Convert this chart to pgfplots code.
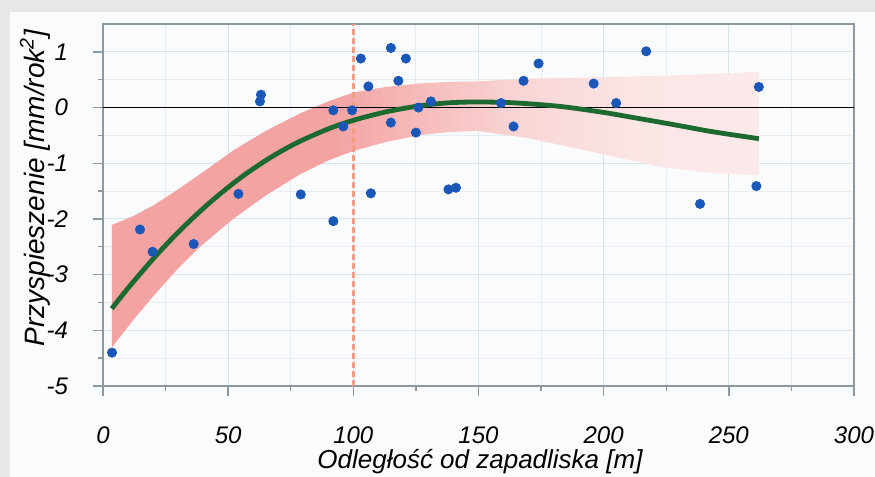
\documentclass[border=0pt]{standalone}
\usepackage{fontspec}
\setmainfont{Liberation Sans}
\usepackage{pgfplots}
\pgfplotsset{compat=1.18}

\definecolor{framegray}{HTML}{E6E7E9}
\definecolor{panel}{HTML}{FAFBFD}
\definecolor{gridmaj}{HTML}{D6E4EE}
\definecolor{gridmin}{HTML}{E4EDF4}
\definecolor{axisgray}{HTML}{8C99A3}
\definecolor{pinkA}{HTML}{F2A3A2}
\definecolor{pinkB}{HTML}{F6BFBE}
\definecolor{pinkC}{HTML}{F9D6D6}
\definecolor{pinkD}{HTML}{FBE6E6}
\definecolor{pinkE}{HTML}{FDF1F1}
\definecolor{fitgreen}{HTML}{1C6A30}
\definecolor{ptblue}{HTML}{1B57B8}
\definecolor{dashred}{HTML}{F39C86}

% band fades towards larger distances
\pgfdeclarehorizontalshading{bandfade}{100bp}{color(0bp)=(pinkA); color(42bp)=(pinkA);
  color(50bp)=(pinkB); color(57bp)=(pinkC); color(66bp)=(pinkD); color(100bp)=(pinkE)}

\begin{document}
\begin{tikzpicture}
\useasboundingbox (-51.5pt,-45.5pt) rectangle (386pt,193pt);
\fill[framegray] (-51.5pt,-45.5pt) rectangle (386pt,193pt);
\fill[panel] (-46.5pt,-45.5pt) rectangle (386pt,187pt);
\begin{axis}[
  at={(0,0)}, anchor=south west,
  scale only axis, width=375.5pt, height=181pt,
  xmin=0, xmax=300, ymin=-5, ymax=1.5,
  xtick={0,50,...,300}, ytick={-5,-4,...,1},
  minor x tick num=1, minor y tick num=1,
  grid=both,
  major grid style={gridmaj, line width=0.5pt},
  minor grid style={gridmin, line width=0.5pt},
  tick pos=left, tick align=outside,
  major tick length=5pt, minor tick length=2.5pt,
  every tick/.style={axisgray, line width=0.7pt},
  axis line style={axisgray, line width=0.8pt},
  /pgf/number format/assume math mode=true,
  ticklabel style={font=\fontsize{12}{14}\selectfont\itshape},
  xticklabel style={yshift=-12pt},
  yticklabel style={xshift=-9pt},
  xlabel={Odległość od zapadliska [m]},
  ylabel={Przyspieszenie [mm/rok\textsuperscript{2}]},
  xlabel style={font=\fontsize{13}{15}\selectfont\itshape, at={(axis description cs:0.502,-0.21)}, anchor=center},
  ylabel style={font=\fontsize{14}{16}\selectfont\itshape, at={(axis description cs:-0.0905,0.547)}, anchor=center, rotate=0},
]
% confidence band
\addplot[draw=none, shading=bandfade, shade] coordinates {
  (3.5,-2.11) (12,-1.95) (20,-1.76) (28,-1.53) (39,-1.19) (52,-0.77) (65,-0.42)
  (79,-0.10) (90,0.11) (100,0.27) (113,0.37) (126,0.43) (138,0.46) (150,0.47)
  (170,0.52) (196,0.54) (222,0.57) (242,0.60) (262,0.64)
  (262,-1.22) (242,-1.17) (222,-1.06) (196,-0.80) (170,-0.55) (150,-0.42) (138,-0.44)
  (126,-0.50) (113,-0.62) (100,-0.78) (90,-0.95) (79,-1.19) (65,-1.58) (52,-2.00)
  (39,-2.49) (30,-2.89) (20,-3.39) (12,-3.82) (3.5,-4.31)
};
% reference lines
\addplot[dashred, line width=1.4pt, dash pattern=on 3pt off 1.5pt] coordinates {(100,-5) (100,1.5)};
\addplot[black, line width=0.9pt] coordinates {(0,0) (300,0)};
% fitted curve
\addplot[fitgreen, line width=2.4pt, smooth, tension=0.5] coordinates {
  (3.5,-3.610) (10,-3.243) (20,-2.718) (28,-2.333) (36,-1.979) (44,-1.655)
  (52,-1.362) (58,-1.162) (65,-0.951) (72,-0.763) (79,-0.599) (90,-0.383)
  (100,-0.229) (113,-0.078) (126,0.028) (138,0.085) (150,0.100) (165,0.083)
  (183,0.018) (200,-0.088) (211,-0.173) (222,-0.259) (232,-0.340) (242,-0.423)
  (252,-0.493) (262,-0.559)
};
% measurements
\addplot[only marks, mark=*, mark size=2.3pt, mark options={fill=ptblue, draw=ptblue}] coordinates {
  (3.6,-4.40) (14.8,-2.19) (19.8,-2.59) (36.2,-2.45) (54.1,-1.55) (63.1,0.23) (62.7,0.11)
  (79,-1.56) (92,-2.04) (92,-0.05) (96,-0.34) (99.5,-0.05) (103,0.88) (106,0.38)
  (107,-1.54) (115,1.07) (115,-0.27) (118,0.48) (121,0.88) (125,-0.45) (126,0.0)
  (131,0.11) (138,-1.47) (141,-1.44) (159,0.08) (164,-0.34) (168,0.48) (174,0.79)
  (196,0.43) (205,0.08) (217,1.01) (238.5,-1.73) (261,-1.41) (262,0.37)
};
\end{axis}
\end{tikzpicture}
\end{document}
